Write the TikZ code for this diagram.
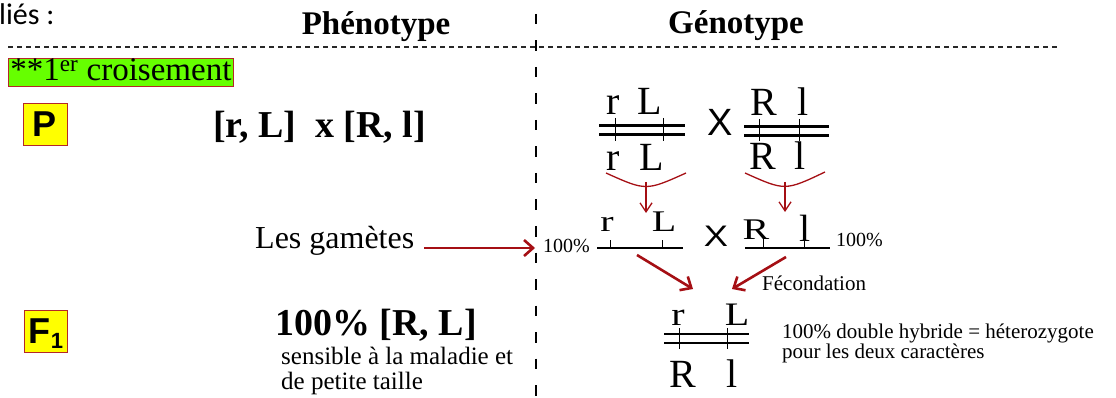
\documentclass[tikz,border=0pt]{standalone}
\usepackage{fontspec}
\usepackage{graphicx}
\setmainfont{Liberation Serif}
\newfontfamily\arialf{Liberation Sans}
\newfontfamily\calibf{Carlito}
\usetikzlibrary{arrows.meta}
\definecolor{arrred}{RGB}{165,15,20}
\definecolor{boxgreen}{RGB}{102,255,0}
\definecolor{boxyellow}{RGB}{255,255,0}
\definecolor{boxedge}{RGB}{180,40,40}
\definecolor{dashgray}{RGB}{40,40,40}
\newcommand{\vsq}[2]{\scalebox{1}[#1]{#2}}
\begin{document}
\begin{tikzpicture}[x=1pt,y=-1pt,
  txt/.style={inner sep=0pt, anchor=base},
  hdr/.style={txt, font=\bfseries\fontsize{33}{36}\selectfont},
  allele/.style={txt, font=\fontsize{40}{40}\selectfont},
  crossx/.style={txt, font=\arialf\fontsize{38}{38}\selectfont},
  small/.style={txt, anchor=base west, font=\fontsize{21}{21}\selectfont},
  pct/.style={txt, anchor=base west, font=\fontsize{20}{20}\selectfont},
  chrom/.style={line width=2.7pt},
  gline/.style={line width=2.2pt},
  tickm/.style={line width=1pt},
  hdash/.style={dashgray, line width=1.3pt, dash pattern=on 5pt off 4pt},
  vdash/.style={black, line width=2pt, dash pattern=on 10.5pt off 16pt, dash phase=12.5pt},
  thinarr/.style={arrred, line width=1.3pt, -{Straight Barb[length=9pt,width=12pt]}},
  thickarr/.style={arrred, line width=2.6pt, -{Straight Barb[length=9pt,width=16pt]}},
  brace/.style={arrred, line width=1.3pt},
  genbox/.style={draw=boxedge, line width=0.9pt, fill=boxyellow, inner sep=0pt, font=\arialf\bfseries\fontsize{36}{36}\selectfont}
]
\useasboundingbox (0,0) rectangle (1116,398);

% headers
\node[txt, anchor=base west, font=\calibf\fontsize{30}{30}\selectfont] (lies) at (-1,25) {liés :};
\node[hdr] (phen) at (376,35) {Phénotype};
\node[hdr] (gen) at (736,34) {Génotype};
\draw[hdash] (8,47) -- (1058,47);
\draw[vdash] (535.5,0) -- (535.5,398);

\node[draw=boxedge, line width=0.9pt, fill=boxgreen, inner xsep=2pt, inner ysep=0pt, text height=23pt, text depth=5pt, anchor=base west, font=\fontsize{33}{33}\selectfont] (cross) at (8,81) {**1\textsuperscript{er} croisement};

% generation boxes
\node[genbox, minimum width=44pt, minimum height=42pt] (P) at (45,124) {P};
\node[genbox, minimum width=43pt, minimum height=42pt, text height=24pt, text depth=0pt] (F) at (46,331) {F\raisebox{-5pt}{\fontsize{22}{22}\selectfont 1}};

% phenotypes
\node[txt, anchor=base west, font=\bfseries\fontsize{38}{38}\selectfont] (pphen) at (213,138) {[r, L]\ \ x [R, l]};
\node[txt, anchor=base west, font=\bfseries\fontsize{38}{38}\selectfont] (fphen) at (275,335) {100\% [R, L]};
\node[txt, anchor=base west, font=\fontsize{25}{25}\selectfont] (fdesc1) at (281,364) {sensible à la maladie et};
\node[txt, anchor=base west, font=\fontsize{25}{25}\selectfont] (fdesc2) at (281,389) {de petite taille};
\node[txt, anchor=base west, font=\fontsize{32}{32}\selectfont] (gam) at (255,248) {Les gamètes};
\coordinate (gamend) at (535,248);
\draw[thickarr] ([xshift=10pt]gam.base east) -- (gamend);

% parental genotypes
\node[allele] (a1) at (613,115) {r};
\node[allele] (a2) at (650,115) {L};
\draw[chrom] (599,125.5) -- (685,125.5);
\draw[chrom] (599,134.5) -- (685,134.5);
\draw[tickm] (615,118) -- (615,141);
\draw[tickm] (663,118) -- (663,141);
\node[allele] (a3) at (613,171) {r};
\node[allele] (a4) at (652,171) {L};
\node[crossx] (x1) at (720,136) {X};
\node[allele] (b1) at (764,116) {R};
\node[allele] (b2) at (803,116) {l};
\draw[chrom] (744,126.5) -- (829,126.5);
\draw[chrom] (744,135.5) -- (829,135.5);
\draw[tickm] (759,119) -- (759,141);
\draw[tickm] (799,119) -- (799,141);
\node[allele] (b3) at (763,170) {R};
\node[allele] (b4) at (800,170) {l};

% meiosis braces
\draw[brace] (606,173) .. controls (646,191) .. (686,173);
\coordinate (brL) at (646,182);
\coordinate (gtL) at (646,213);
\draw[thinarr] (brL) -- (gtL);
\draw[brace] (745,173) .. controls (785,191) .. (825,172);
\coordinate (brR) at (785,182);
\coordinate (gtR) at (785,212);
\draw[thinarr] (brR) -- (gtR);

% gametes
\node[allele] (g1) at (607,232) {\vsq{0.75}{r}};
\node[allele] (g2) at (664,232) {\vsq{0.75}{L}};
\draw[gline] (597,248) -- (683,248);
\draw[tickm] (610,240) -- (610,248);
\draw[tickm] (662,240) -- (662,248);
\node[pct] (p1) at (543,252) {100\%};
\node[crossx, font=\arialf\fontsize{33}{33}\selectfont] (x2) at (716,247) {\scalebox{1.1}[0.9]{X}};
\node[allele] (g3) at (756,240) {\vsq{0.75}{R}};
\node[allele] (g4) at (805,241) {\vsq{0.95}{l}};
\draw[gline] (745,248) -- (830,248);
\draw[tickm] (763,238) -- (763,248);
\draw[tickm] (804,238) -- (804,248);
\node[pct] (p2) at (836,247) {100\%};

% fecondation
\coordinate (fs1) at (637,255);
\coordinate (fe1) at (693,289);
\coordinate (fs2) at (786,257);
\coordinate (fe2) at (732,289);
\draw[thickarr] (fs1) -- (fe1);
\draw[thickarr] (fs2) -- (fe2);
\node[small] (fec) at (762,290) {Fécondation};

% F1 genotype
\node[allele] (h1) at (678,325) {\vsq{0.82}{r}};
\node[allele] (h2) at (737,325) {\vsq{0.82}{L}};
\draw[chrom] (664,334) -- (749,334);
\draw[chrom] (664,343) -- (749,343);
\draw[tickm] (679,328) -- (679,349);
\draw[tickm] (727,328) -- (727,349);
\node[allele] (h3) at (683,387) {R};
\node[allele] (h4) at (732,387) {l};
\node[small] (hyb1) at (782,338) {100\% double hybride = héterozygote};
\node[small] (hyb2) at (782,358) {pour les deux caractères};
\end{tikzpicture}
\end{document}
